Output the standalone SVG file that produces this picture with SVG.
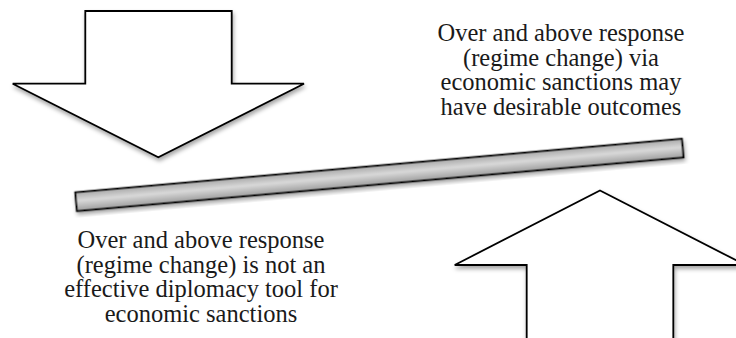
<svg xmlns="http://www.w3.org/2000/svg" width="736" height="338" viewBox="0 0 736 338">
  <defs>
    <filter id="shadow" x="-20%" y="-20%" width="140%" height="150%">
      <feDropShadow dx="1" dy="3" stdDeviation="2.2" flood-color="#000" flood-opacity="0.35"/>
    </filter>
    <linearGradient id="barGrad" x1="0" y1="0" x2="0" y2="1">
      <stop offset="0" stop-color="#a9a9a9"/>
      <stop offset="0.45" stop-color="#d8d8d8"/>
      <stop offset="1" stop-color="#9e9e9e"/>
    </linearGradient>
  </defs>
  <style>
    .arrow { fill: #ffffff; stroke: #000000; stroke-width: 1.8; stroke-linejoin: miter; filter: url(#shadow); }
    .bar { fill: url(#barGrad); stroke: #000000; stroke-width: 1.8; filter: url(#shadow); }
    .label { font-family: "Liberation Serif", "Times New Roman", serif; font-size: 24.5px; fill: #1a1a1a; text-anchor: middle; }
  </style>
  <rect width="736" height="338" fill="#ffffff"/>

  <g id="down-arrow">
    <polygon class="arrow" points="85.3,11 231.7,11 231.7,83.7 304,83.7 158.3,157.3 12.7,83.7 85.3,83.7"/>
  </g>

  <g id="up-arrow">
    <polygon class="arrow" points="600,190.5 745.3,265 673.3,265 673.3,400 526.7,400 526.7,265 454.7,265"/>
  </g>

  <g id="balance-bar">
    <g transform="translate(379.4,174.9) rotate(-5.05)">
      <rect class="bar" x="-304.5" y="-9.4" width="609" height="18.8"/>
    </g>
  </g>

  <g id="label-top-right">
    <text class="label" x="561" y="41">Over and above response</text>
    <text class="label" x="561" y="65.5">(regime change) via</text>
    <text class="label" x="561" y="90">economic sanctions may</text>
    <text class="label" x="561" y="114.5">have desirable outcomes</text>
  </g>

  <g id="label-bottom-left">
    <text class="label" x="201" y="248">Over and above response</text>
    <text class="label" x="201" y="272.5">(regime change) is not an</text>
    <text class="label" x="201" y="297">effective diplomacy tool for</text>
    <text class="label" x="201" y="321.5">economic sanctions</text>
  </g>

  <g id="connectors"></g>
</svg>
